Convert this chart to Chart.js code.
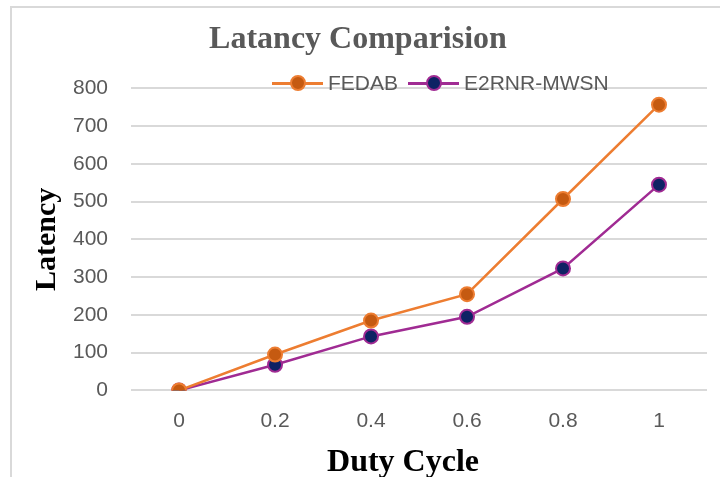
<!DOCTYPE html>
<html lang="en">
<head>
    <meta charset="UTF-8">
    <title>Latancy Comparision</title>
    <style>
        body {
            margin: 0;
            padding: 0;
            background: #fff;
            overflow: hidden;
        }

        .frame {
            position: absolute;
            left: 10px;
            top: 6px;
            width: 800px;
            height: 600px;
            border: 2px solid #d9d9d9;
        }

        .chart-box {
            position: absolute;
            left: 0;
            top: 0;
            width: 720px;
            height: 477px;
        }

        .legend {
            position: absolute;
            top: 70px;
            left: 272px;
            display: flex;
            align-items: center;
            font-family: "Liberation Sans", Arial, sans-serif;
            font-size: 21px;
            line-height: 26px;
            color: #595959;
        }

        .legend .item {
            display: flex;
            align-items: center;
            margin-right: 10px;
        }

        .legend .mark {
            position: relative;
            width: 51px;
            height: 16px;
            margin-right: 5px;
        }

        .legend .mark .ln {
            position: absolute;
            left: 0;
            right: 0;
            top: 6.5px;
            height: 3px;
        }

        .legend .mark .dot {
            position: absolute;
            left: 18px;
            top: 0;
            width: 12px;
            height: 12px;
            border-radius: 50%;
            border: 2px solid;
        }
    </style>
</head>
<body>
    <div class="frame"></div>
    <div class="chart-box">
        <canvas id="latencyChart" width="720" height="477"></canvas>
    </div>
    <div class="legend" id="legend"></div>

    <script src="https://cdn.jsdelivr.net/npm/chart.js"></script>
    <script>
        // valores
        const dutyCycle = ['0', '0.2', '0.4', '0.6', '0.8', '1'];
        const fedab = [0, 95, 185, 255, 507, 757];
        const e2rnr = [0, 68, 143, 195, 323, 545];
        const yTicks = [0, 100, 200, 300, 400, 500, 600, 700, 800];

        const series = [
            { label: 'FEDAB', data: fedab, line: '#ed7d31', fill: '#c55a11' },
            { label: 'E2RNR-MWSN', data: e2rnr, line: '#a02b93', fill: '#0e2264' }
        ];

        const ctx = document.getElementById('latencyChart').getContext('2d');
        new Chart(ctx, {
            type: 'line',
            data: {
                labels: dutyCycle,
                datasets: series.map(s => ({
                    label: s.label,
                    data: s.data,
                    borderColor: s.line,
                    borderWidth: 2.5,
                    pointRadius: 7,
                    pointBorderWidth: 2,
                    pointBackgroundColor: s.fill,
                    pointBorderColor: s.line,
                    tension: 0
                }))
            },
            options: {
                responsive: false,
                animation: false,
                layout: {
                    padding: { left: 9, right: 13, top: 0, bottom: 0 }
                },
                plugins: {
                    legend: { display: false },
                    tooltip: { enabled: false },
                    title: {
                        display: true,
                        text: 'Latancy Comparision',
                        color: '#595959',
                        font: { family: '"Liberation Serif", "Times New Roman", serif', size: 32, weight: 'bold' },
                        padding: { top: 21, bottom: 29 }
                    }
                },
                scales: {
                    x: {
                        offset: true,
                        grid: { display: false, drawTicks: false },
                        border: { display: false },
                        ticks: {
                            color: '#595959',
                            padding: 18,
                            font: { family: '"Liberation Sans", Arial, sans-serif', size: 21 }
                        },
                        title: {
                            display: true,
                            // espaços no fim deslocam o título um pouco para a esquerda, como no original
                            text: 'Duty Cycle\u00a0\u00a0\u00a0\u00a0',
                            color: '#000',
                            font: { family: '"Liberation Serif", "Times New Roman", serif', size: 32, weight: 'bold' },
                            // padding negativo: o Chart.js soma o padding dos ticks duas vezes
                            padding: { top: -8, bottom: -5 }
                        }
                    },
                    y: {
                        min: 0,
                        max: 800,
                        afterBuildTicks: axis => {
                            axis.ticks = yTicks.map(v => ({ value: v }));
                        },
                        grid: { color: '#d9d9d9', lineWidth: 2, drawTicks: false },
                        border: { display: false },
                        ticks: {
                            color: '#595959',
                            padding: 23,
                            font: { family: '"Liberation Sans", Arial, sans-serif', size: 21 }
                        },
                        title: {
                            display: true,
                            text: 'Latency',
                            color: '#000',
                            font: { family: '"Liberation Serif", "Times New Roman", serif', size: 30, weight: 'bold' },
                            padding: { top: 20, bottom: -15 }
                        }
                    }
                }
            }
        });

        // legenda em HTML (linha com marcador)
        const legend = document.getElementById('legend');
        series.forEach(s => {
            const item = document.createElement('div');
            item.className = 'item';
            item.innerHTML =
                '<span class="mark"><span class="ln" style="background:' + s.line + '"></span>' +
                '<span class="dot" style="background:' + s.fill + ';border-color:' + s.line + '"></span></span>' +
                '<span>' + s.label + '</span>';
            legend.appendChild(item);
        });
    </script>
</body>
</html>
